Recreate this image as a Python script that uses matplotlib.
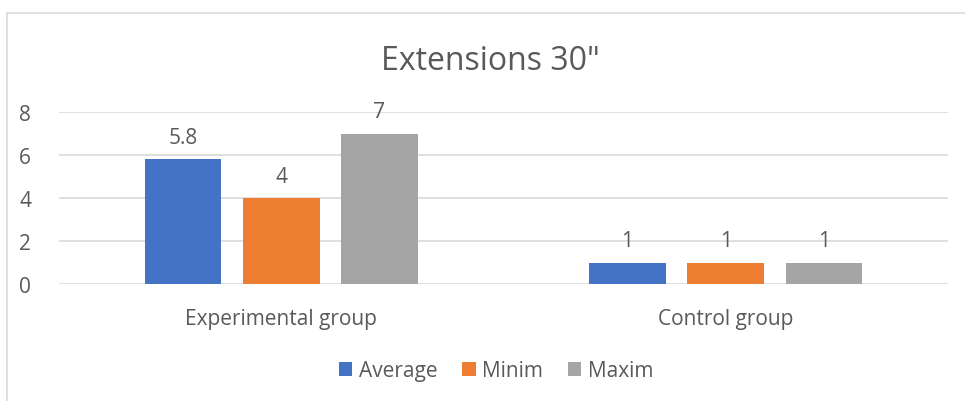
import matplotlib
matplotlib.use("Agg")
import matplotlib.pyplot as plt
import numpy as np
from matplotlib.patches import Rectangle

categories = ["Experimental group", "Control group"]
series_names = ["Average", "Minim", "Maxim"]
average = [5.8, 1]
minim = [4, 1]
maxim = [7, 1]
labels = [["5.8", "1"], ["4", "1"], ["7", "1"]]
yticks = [0, 2, 4, 6, 8]
title = 'Extensions 30"'

colors = ["#4472C4", "#ED7D31", "#A5A5A5"]
txt = "#595959"
plt.rcParams['font.family'] = ['Open Sans', 'DejaVu Sans']

fig = plt.figure(figsize=(9.65, 4.02), dpi=100)
fig.patches.append(Rectangle((7/965, -0.1), 1.0, (402-14)/402 + 0.1, transform=fig.transFigure,
                             fill=False, edgecolor="#D9D9D9", linewidth=1.2))
ax = fig.add_axes([59/965, (402-285)/402, (948-59)/965, (285-113)/402])

x = np.arange(len(categories))
width = 0.173
step = 0.221
for i, (vals, col) in enumerate(zip([average, minim, maxim], colors)):
    pos = x + (i - 1) * step
    bars = ax.bar(pos, vals, width=width, color=col, label=series_names[i], zorder=3)
    for b, lab in zip(bars, labels[i]):
        ax.annotate(lab, (b.get_x() + b.get_width() / 2, b.get_height()),
                    xytext=(0, 8), textcoords="offset points", ha="center", va="bottom",
                    fontsize=15, color=txt)

ax.set_xlim(-0.5, 1.5)
ax.set_ylim(0, 8)
ax.set_yticks(yticks)
ax.set_yticklabels([str(t) for t in yticks], fontsize=15, color=txt)
ax.set_xticks(x)
ax.set_xticklabels(categories, fontsize=15, color=txt)
ax.tick_params(axis="both", length=0)
ax.tick_params(axis="y", pad=20)
ax.tick_params(axis="x", pad=17)
ax.grid(axis="y", color="#D9D9D9", linewidth=1.2, zorder=0)
for s in ax.spines.values():
    s.set_visible(False)

fig.text(490/965, 1 - 61/402, title, ha="center", va="center", fontsize=23, color=txt)

leg = fig.legend(loc="center", bbox_to_anchor=(496/965, 1 - 372/402), ncol=3, frameon=False,
                 fontsize=15, handlelength=0.65, handleheight=0.65, handletextpad=0.3,
                 columnspacing=1.2, labelcolor=txt)

fig.savefig("out.png", dpi=100)
